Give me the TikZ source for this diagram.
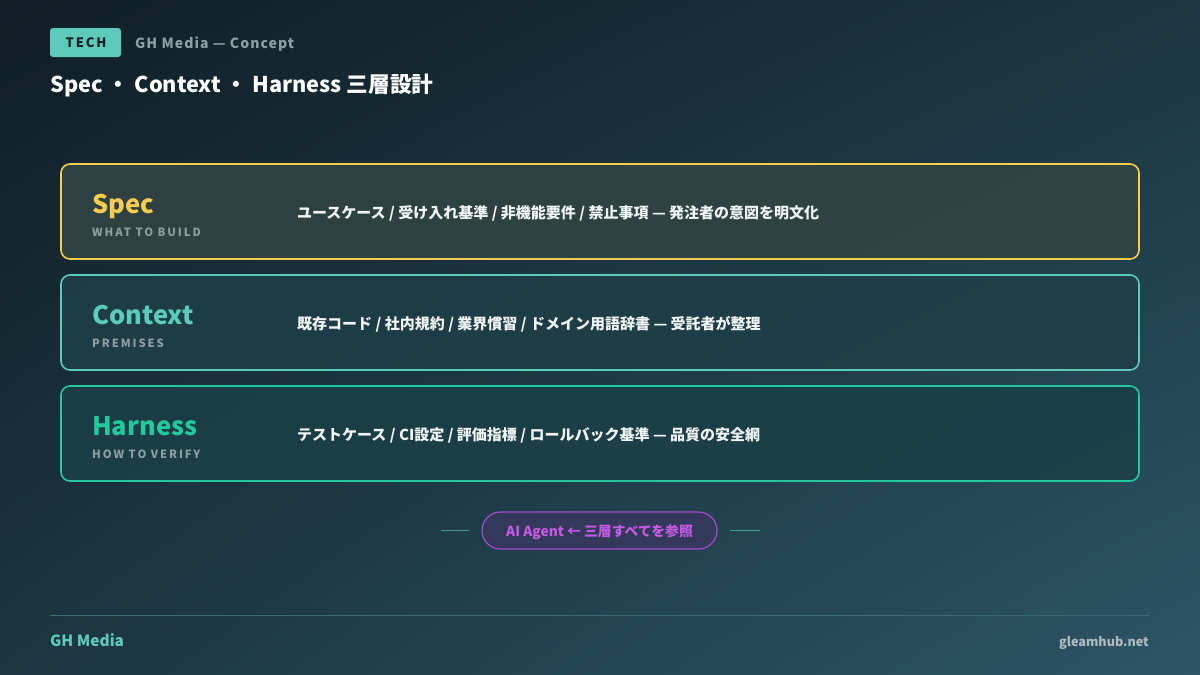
\documentclass[tikz,border=0pt]{standalone}
\usepackage{fontspec}
\setmainfont{Noto Sans CJK JP}
\usetikzlibrary{positioning,shadings}

\definecolor{bgtop}{HTML}{101E26}
\definecolor{bgmid}{HTML}{1B3541}
\definecolor{bgbot}{HTML}{2D5566}
\definecolor{tealc}{HTML}{5CCBBB}
\definecolor{specc}{HTML}{F7CC4F}
\definecolor{harnc}{HTML}{22C99C}
\definecolor{grayc}{HTML}{8D9EA3}
\definecolor{descc}{HTML}{F2F5F5}
\definecolor{agentc}{HTML}{C65AE6}
\definecolor{agentb}{HTML}{A64BD0}
\definecolor{rulec}{HTML}{3C6A74}

\tikzset{
  layerbox/.style={rounded corners=9pt, line width=1.6pt, minimum width=1078pt, minimum height=95pt, inner sep=0pt},
  layername/.style={anchor=base west, inner sep=0pt, font=\fontsize{25.5}{25.5}\selectfont\bfseries},
  layersub/.style={anchor=base west, inner sep=0pt, text=grayc, font=\fontsize{11.3}{11.3}\selectfont\bfseries\addfontfeatures{LetterSpace=17}},
  layerdesc/.style={anchor=base west, inner sep=0pt, text=descc, font=\fontsize{15}{15}\selectfont\bfseries},
}

\begin{document}
\begin{tikzpicture}[x=1pt,y=-1pt]
  \useasboundingbox (0,0) rectangle (1200,675);
  % background
  \shade[upper left=bgtop, upper right=bgmid, lower left=bgmid, lower right=bgbot] (0,0) rectangle (1200,675);

  % header
  \node[fill=tealc, rounded corners=3pt, minimum width=71pt, minimum height=29pt, inner sep=0pt] (tech) at (85.5,42.5) {};
  \node[anchor=base, inner sep=0pt, text=bgtop, font=\fontsize{13}{13}\selectfont\bfseries\addfontfeatures{LetterSpace=14}] (techtext) at (86,47.5) {TECH};
  \node[anchor=base west, inner sep=0pt, text=grayc, font=\fontsize{14}{14}\selectfont\bfseries\addfontfeatures{LetterSpace=7.5}] (kicker) at (135,48.5) {GH Media — Concept};
  \node[anchor=base west, inner sep=0pt, text=white, font=\fontsize{21.7}{21.7}\selectfont\bfseries] (title) at (50,92) {Spec ・ Context ・ Harness 三層設計};

  % Spec
  \node[layerbox, draw=specc, fill=specc!10!bgmid, fill opacity=0.9] (specbox) at (600,211.5) {};
  \node[layername, text=specc] (specname) at (92,213) {Spec};
  \node[layersub] (specsub) at (92,236.5) {WHAT TO BUILD};
  \node[layerdesc] (specdesc) at (297,218.5) {ユースケース / 受け入れ基準 / 非機能要件 / 禁止事項 — 発注者の意図を明文化};

  % Context
  \node[layerbox, draw=tealc, fill=tealc!6!bgmid, fill opacity=0.9] (ctxbox) at (600,322.5) {};
  \node[layername, text=tealc] (ctxname) at (92,324) {Context};
  \node[layersub] (ctxsub) at (92,347.5) {PREMISES};
  \node[layerdesc] (ctxdesc) at (297,329.5) {既存コード / 社内規約 / 業界慣習 / ドメイン用語辞書 — 受託者が整理};

  % Harness
  \node[layerbox, draw=harnc, fill=harnc!7!bgmid, fill opacity=0.9] (harnbox) at (600,433.5) {};
  \node[layername, text=harnc] (harnname) at (92,435) {Harness};
  \node[layersub] (harnsub) at (92,458.5) {HOW TO VERIFY};
  \node[layerdesc] (harndesc) at (297,440.5) {テストケース / CI設定 / 評価指標 / ロールバック基準 — 品質の安全網};

  % agent pill
  \node[draw=agentb, line width=1.2pt, fill=agentb!18!bgmid, rounded corners=18.5pt, minimum width=235pt, minimum height=37pt, inner sep=0pt] (agent) at (599.5,530.5) {};
  \node[anchor=base, inner sep=0pt, text=agentc, font=\fontsize{13.8}{13.8}\selectfont\bfseries] (agenttext) at (599.5,536) {AI Agent ← 三層すべてを参照};
  \coordinate (leftend) at (441,530.5);
  \coordinate (rightend) at (760,530.5);
  \draw[tealc!70!bgmid, line width=1.2pt] (leftend) -- ([xshift=-12pt]agent.west);
  \draw[tealc!70!bgmid, line width=1.2pt] ([xshift=12pt]agent.east) -- (rightend);

  % footer
  \coordinate (rulel) at (50,615);
  \coordinate (ruler) at (1150,615);
  \draw[rulec, line width=0.8pt] (rulel) -- (ruler);
  \node[anchor=base west, inner sep=0pt, text=tealc, font=\fontsize{15.4}{15.4}\selectfont\bfseries] (brand) at (50,646.5) {GH Media};
  \node[anchor=base east, inner sep=0pt, text=grayc!70!white, font=\fontsize{12.6}{12.6}\selectfont\bfseries] (site) at (1149,646) {gleamhub.net};
\end{tikzpicture}
\end{document}
